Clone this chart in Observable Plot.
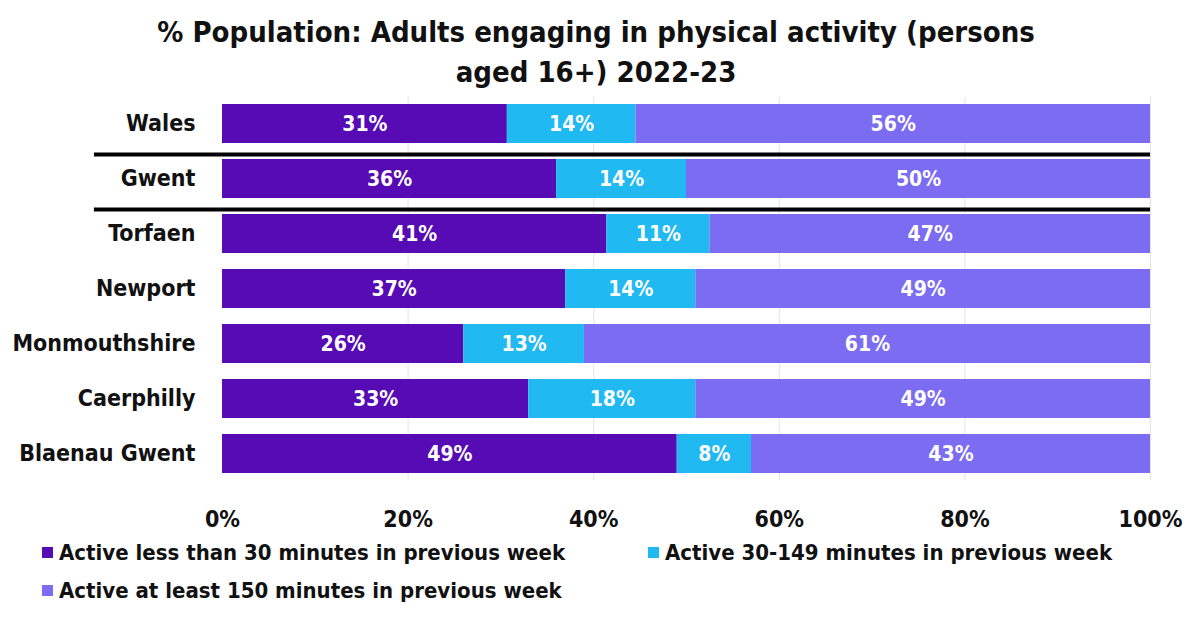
<!DOCTYPE html>
<html>
<head>
<meta charset="utf-8">
<script src="https://cdn.jsdelivr.net/npm/d3@7"></script>
<script src="https://cdn.jsdelivr.net/npm/@observablehq/plot@0.6"></script>
<style>
  html, body { margin: 0; padding: 0; background: #fff; }
  body { width: 1192px; height: 619px; overflow: hidden; font-family: 'Liberation Sans Narrow', 'DejaVu Sans Condensed', 'Liberation Sans', sans-serif; }
  #title { height: 95px; box-sizing: border-box; padding-top: 12px; text-align: center; font-weight: bold; font-size: 29px; line-height: 40px; color: #111; }
  #legend { display: grid; grid-template-columns: 606px 520px; padding-left: 42px; row-gap: 8px; margin-top: -3px; }
  .item { display: flex; align-items: center; font-size: 22px; font-weight: bold; color: #111; height: 30px; }
  .sw { width: 11px; height: 11px; margin-right: 6px; flex: none; }
</style>
</head>
<body>
<div id="title">% Population: Adults engaging in physical activity (persons<br>aged 16+) 2022-23</div>
<div id="chart"></div>
<div id="legend"></div>
<script>
const categories = ["Wales", "Gwent", "Torfaen", "Newport", "Monmouthshire", "Caerphilly", "Blaenau Gwent"];
const series = [
  "Active less than 30 minutes in previous week",
  "Active 30-149 minutes in previous week",
  "Active at least 150 minutes in previous week"
];
const colors = ["#560bb5", "#21b9f2", "#7b6cf2"];
const lessThan30 = [31, 36, 41, 37, 26, 33, 49];
const from30to149 = [14, 14, 11, 14, 13, 18, 8];
const atLeast150 = [56, 50, 47, 49, 61, 49, 43];
const xTicks = [0, 0.2, 0.4, 0.6, 0.8, 1.0];
const xTickLabels = ["0%", "20%", "40%", "60%", "80%", "100%"];
const separators = ["Wales", "Gwent"];

const seriesValues = [lessThan30, from30to149, atLeast150];
const data = categories.flatMap((area, i) =>
  series.map((s, j) => ({ area, series: s, value: seriesValues[j][i] }))
);

const font = "'Liberation Sans Narrow', 'DejaVu Sans Condensed', 'Liberation Sans', sans-serif";

const chart = Plot.plot({
  width: 1192,
  height: 445,
  marginLeft: 222,
  marginRight: 42,
  marginTop: 2,
  marginBottom: 60,
  style: { fontFamily: font, fontSize: "20px", fontWeight: "bold", color: "#111", overflow: "visible" },
  x: { domain: [0, 1], axis: null },
  y: { domain: categories, paddingInner: 0.3, paddingOuter: 0.1, axis: null },
  color: { domain: series, range: colors },
  marks: [
    Plot.ruleX(xTicks.slice(1), { stroke: "#e4e4e4", strokeWidth: 1 }),
    Plot.barX(data, Plot.stackX({ x: "value", y: "area", fill: "series", offset: "normalize", order: series })),
    Plot.text(data, Plot.stackX({
      x: "value", y: "area", z: "series", offset: "normalize", order: series,
      text: d => d.value + "%", fill: "white", fontWeight: "bold", fontSize: 21
    })),
    Plot.ruleY(separators, { y: d => d, x1: -0.138, x2: 1, stroke: "black", strokeWidth: 4, dy: 30.5, clip: false }),
    Plot.axisY({ tickSize: 0, tickPadding: 27, label: null, fontSize: 23, fontWeight: "bold" }),
    Plot.axisX(xTicks, { tickSize: 0, tickPadding: 30, label: null, tickFormat: (d, i) => xTickLabels[i], fontSize: 23, fontWeight: "bold" })
  ]
});
document.getElementById("chart").appendChild(chart);

const legend = document.getElementById("legend");
series.forEach((s, j) => {
  const item = document.createElement("div");
  item.className = "item";
  const sw = document.createElement("span");
  sw.className = "sw";
  sw.style.background = colors[j];
  const t = document.createElement("span");
  t.textContent = s;
  item.appendChild(sw);
  item.appendChild(t);
  legend.appendChild(item);
});
</script>
</body>
</html>
